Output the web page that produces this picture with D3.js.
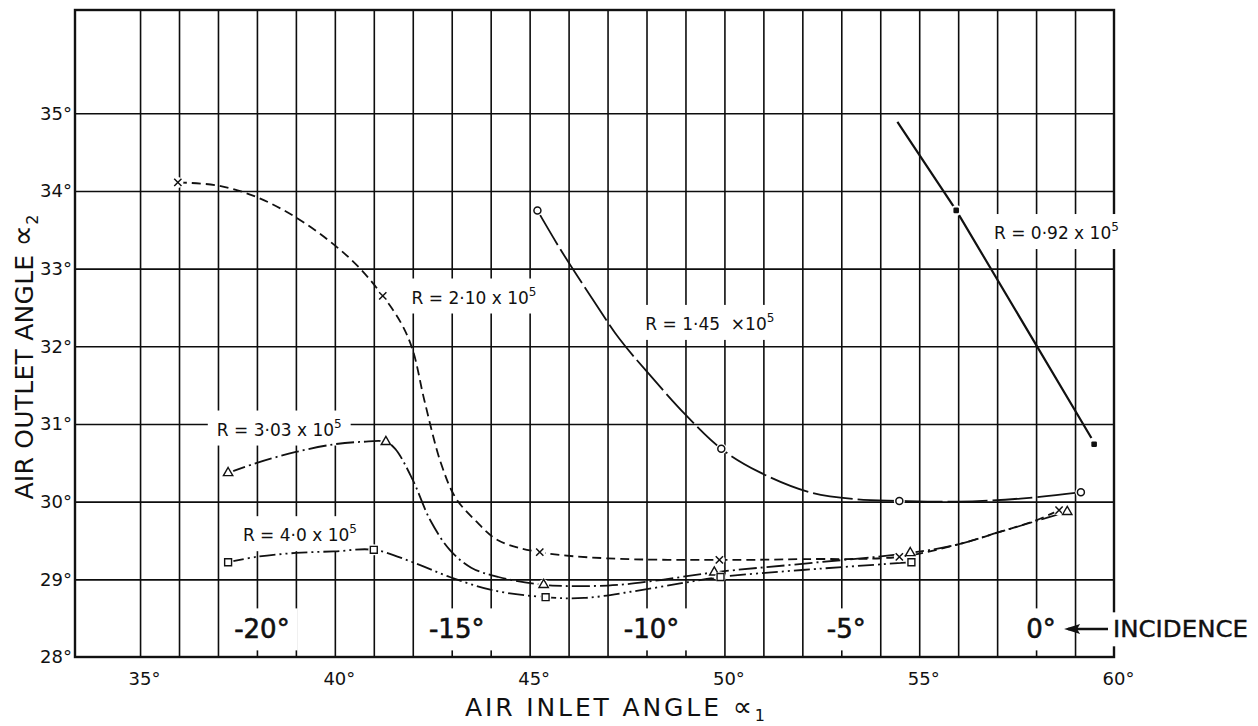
<!DOCTYPE html>
<html>
<head>
<meta charset="utf-8">
<script src="https://d3js.org/d3.v7.min.js"></script>
<style>
  body { margin: 0; background: #fff; }
  text { font-family: "DejaVu Sans", sans-serif; fill: #111; }
</style>
</head>
<body>
<div id="chart"></div>
<script>
// axis values
const xTicks = [35, 40, 45, 50, 55, 60];
const yTicks = [28, 29, 30, 31, 32, 33, 34, 35];
const incidenceTicks = [-20, -15, -10, -5, 0];
const zeroIncidenceInlet = 58; // alpha1 where incidence = 0

// R = 0.92 x 10^5
const r092Marks = [[55.95, 33.75], [59.49, 30.74]];
const r092Curve = [[54.44, 34.89], [55.95, 33.75], [59.42, 30.82]];

// R = 1.45 x 10^5
const r145Marks = [[45.2, 33.75], [49.92, 30.68], [54.49, 30.01], [59.15, 30.12]];
const r145Curve = [[45.2, 33.75], [45.8, 33.24], [46.6, 32.62], [47.3, 32.1], [48.0, 31.68],
  [49.0, 31.12], [49.92, 30.68], [50.9, 30.38], [52.2, 30.12], [53.4, 30.03], [54.49, 30.01],
  [56.0, 30.0], [57.6, 30.04], [59.15, 30.12]];

// R = 2.10 x 10^5
const r210Marks = [[35.97, 34.11], [41.23, 32.65], [45.26, 29.35], [49.87, 29.25], [54.49, 29.29], [58.59, 29.89]];
const r210Curve = [[35.97, 34.11], [37, 34.07], [38, 33.92], [39, 33.66], [40, 33.3], [40.65, 33.0],
  [41.23, 32.65], [41.7, 32.3], [42.0, 31.95], [42.3, 31.3], [42.72, 30.5], [43.1, 30.05],
  [43.6, 29.76], [44.2, 29.5], [45.26, 29.35], [47, 29.27], [49.87, 29.25], [52, 29.26],
  [54.49, 29.29], [56, 29.45], [57, 29.6], [58, 29.76], [58.59, 29.89]];

// R = 3.03 x 10^5
const r303Marks = [[37.26, 30.37], [41.31, 30.77], [45.36, 28.93], [49.74, 29.09], [54.77, 29.34], [58.8, 29.87]];
const r303Curve = [[37.26, 30.37], [38, 30.5], [39, 30.64], [40, 30.74], [40.7, 30.77], [41.31, 30.77],
  [41.55, 30.68], [42, 30.28], [42.45, 29.76], [42.95, 29.38], [43.5, 29.15], [44.2, 29.03],
  [45.36, 28.93], [47, 28.92], [48.2, 28.98], [49.74, 29.09], [52, 29.2], [54.77, 29.34],
  [56, 29.45], [57, 29.6], [58, 29.75], [58.8, 29.87]];

// R = 4.0 x 10^5
const r400Marks = [[37.26, 29.22], [41.0, 29.38], [45.41, 28.77], [49.9, 29.03], [54.8, 29.22]];
const r400Curve = [[37.26, 29.22], [38, 29.29], [39, 29.34], [40, 29.36], [41, 29.38], [42, 29.22],
  [42.95, 29.03], [44.05, 28.86], [45.41, 28.77], [46.4, 28.76], [47.6, 28.84], [48.9, 28.95],
  [49.9, 29.03], [52, 29.12], [54.8, 29.22]];

const W = 1258, H = 726;
const x = d3.scaleLinear().domain([33.33, 60]).range([75, 1114]);
const y = d3.scaleLinear().domain([28, 36.33]).range([657, 10]);

const svg = d3.select("#chart").append("svg")
  .attr("width", W).attr("height", H);

// grid through the axes
const plotH = y(28) - y(36.33);
const plotW = x(60) - x(33.33);

svg.append("g")
  .attr("transform", `translate(0,${y(28)})`)
  .call(d3.axisBottom(x).tickValues(d3.range(35, 60)).tickSize(-plotH).tickFormat(""))
  .call(g => g.select(".domain").remove())
  .call(g => g.selectAll("line").attr("stroke", "#0d0d0d").attr("stroke-width", 1.6));

svg.append("g")
  .attr("transform", `translate(${x(33.33)},0)`)
  .call(d3.axisLeft(y).tickValues(d3.range(29, 36)).tickSize(-plotW).tickFormat(""))
  .call(g => g.select(".domain").remove())
  .call(g => g.selectAll("line").attr("stroke", "#0d0d0d").attr("stroke-width", 1.6));

svg.append("rect")
  .attr("x", x(33.33)).attr("y", y(36.33))
  .attr("width", plotW).attr("height", plotH)
  .attr("fill", "none").attr("stroke", "#111").attr("stroke-width", 2.4);

// tick labels
svg.append("g")
  .attr("transform", `translate(0,${y(28)})`)
  .call(d3.axisBottom(x).tickValues(xTicks).tickSize(0).tickPadding(15).tickFormat(d => d + "°"))
  .call(g => g.select(".domain").remove())
  .call(g => g.selectAll("text").attr("font-size", 18).attr("dx", 4)
    .style("font-family", "DejaVu Sans").attr("fill", "#111"));

svg.append("g")
  .attr("transform", `translate(${x(33.33)},0)`)
  .call(d3.axisLeft(y).tickValues(yTicks).tickSize(0).tickPadding(3).tickFormat(d => d + "°"))
  .call(g => g.select(".domain").remove())
  .call(g => g.selectAll("text").attr("font-size", 18)
    .style("font-family", "DejaVu Sans").attr("fill", "#111"));

// axis titles
const xt = svg.append("text")
  .attr("x", 615).attr("y", 716)
  .attr("text-anchor", "middle")
  .attr("font-size", 25)
  .attr("textLength", 300).attr("lengthAdjust", "spacing");
xt.append("tspan").text("AIR  INLET ANGLE ");
xt.append("tspan").attr("font-size", 27).text("∝");
xt.append("tspan").attr("font-size", 16).attr("dy", 5).text("1");

const yt = svg.append("text")
  .attr("transform", "translate(33,357) rotate(-90)")
  .attr("text-anchor", "middle")
  .attr("font-size", 25)
  .attr("textLength", 285).attr("lengthAdjust", "spacing");
yt.append("tspan").text("AIR OUTLET ANGLE ");
yt.append("tspan").attr("font-size", 30).text("∝");
yt.append("tspan").attr("font-size", 16).attr("dy", 5).text("2");

// label with white box that breaks the grid
function boxedLabel(g, pad) {
  const b = g.node().getBBox();
  g.insert("rect", ":first-child")
    .attr("x", b.x - pad[0]).attr("y", b.y - pad[1])
    .attr("width", b.width + 2 * pad[0]).attr("height", b.height + 2 * pad[1])
    .attr("fill", "#fff");
}

// incidence labels
incidenceTicks.forEach(i => {
  const g = svg.append("g");
  g.append("text")
    .attr("x", x(zeroIncidenceInlet + i)).attr("y", y(28.36))
    .attr("dy", "0.36em").attr("dx", 5)
    .attr("text-anchor", "middle")
    .attr("font-size", 26)
    .attr("stroke", "#111").attr("stroke-width", 0.6)
    .text(i + "°");
  boxedLabel(g, [8, 6]);
});

// INCIDENCE arrow
const arrowY = y(28.36);
const ag = svg.append("g");
ag.append("line")
  .attr("x1", x(zeroIncidenceInlet) + 32).attr("x2", x(60) - 6)
  .attr("y1", arrowY).attr("y2", arrowY)
  .attr("stroke", "#111").attr("stroke-width", 2.5);
ag.append("path")
  .attr("d", `M${x(zeroIncidenceInlet) + 28},${arrowY} l16,-5 l-3,5 l3,5 z`)
  .attr("fill", "#111");
const inc = svg.append("g");
inc.append("text")
  .attr("x", x(60) - 1).attr("y", arrowY).attr("dy", "0.36em")
  .attr("font-size", 23)
  .attr("textLength", 135).attr("lengthAdjust", "spacingAndGlyphs")
  .attr("stroke", "#111").attr("stroke-width", 0.4)
  .text("INCIDENCE");
boxedLabel(inc, [2, 4]);

// R labels
const labelSpots = [
  { name: "2·10", at: [41.97, 32.63], mid: " x " },
  { name: "1·45", at: [47.97, 32.29], mid: "  ×" },
  { name: "0·92", at: [56.92, 33.46], mid: " x " },
  { name: "3·03", at: [36.97, 30.93], mid: " x " },
  { name: "4·0", at: [37.64, 29.57], mid: " x " }
];
labelSpots.forEach(l => {
  const g = svg.append("g");
  const t = g.append("text")
    .attr("x", x(l.at[0])).attr("y", y(l.at[1]))
    .attr("dy", "0.36em")
    .attr("font-size", 17)
    .attr("xml:space", "preserve");
  t.append("tspan").text("R = " + l.name + l.mid + "10");
  t.append("tspan").attr("font-size", 12).attr("dy", -8).text("5");
  boxedLabel(g, [9, 6]);
});

// curves
const smooth = d3.line()
  .x(d => x(d[0])).y(d => y(d[1]))
  .curve(d3.curveCatmullRom.alpha(0.5));
const straight = d3.line()
  .x(d => x(d[0])).y(d => y(d[1]));

const curves = [
  { data: r092Curve, dash: null, gen: straight },
  { data: r145Curve, dash: "40,5", gen: smooth },
  { data: r210Curve, dash: "9,5", gen: smooth },
  { data: r303Curve, dash: "18,4,2,4", gen: smooth },
  { data: r400Curve, dash: "16,4,2,4,2,4", gen: smooth }
];
curves.forEach(c => {
  svg.append("path")
    .attr("d", c.gen(c.data))
    .attr("fill", "none")
    .attr("stroke", "#111")
    .attr("stroke-width", c.dash ? 1.8 : 2.2)
    .attr("stroke-dasharray", c.dash);
});

// markers
function marks(data, type) {
  const g = svg.append("g");
  const sel = g.selectAll("g").data(data).join("g")
    .attr("transform", d => `translate(${x(d[0])},${y(d[1])})`);
  sel.append("circle").attr("r", 5.5).attr("fill", "#fff");
  if (type === "circle") {
    sel.append("circle").attr("r", 3.5).attr("fill", "#fff").attr("stroke", "#111").attr("stroke-width", 1.5);
  } else if (type === "triangle") {
    sel.append("path").attr("d", d3.symbol(d3.symbolTriangle, 38)())
      .attr("fill", "#fff").attr("stroke", "#111").attr("stroke-width", 1.4);
  } else if (type === "square") {
    sel.append("path").attr("d", d3.symbol(d3.symbolSquare, 48)())
      .attr("fill", "#fff").attr("stroke", "#111").attr("stroke-width", 1.4);
  } else if (type === "cross") {
    sel.append("path").attr("d", d3.symbol(d3.symbolX, 36)())
      .attr("fill", "none").attr("stroke", "#111").attr("stroke-width", 1.5);
  } else if (type === "dot") {
    sel.append("rect").attr("x", -2.8).attr("y", -2.8).attr("width", 5.6).attr("height", 5.6)
      .attr("rx", 1.2).attr("fill", "#111");
  }
}
marks(r092Marks, "dot");
marks(r145Marks, "circle");
marks(r210Marks, "cross");
marks(r303Marks, "triangle");
marks(r400Marks, "square");
</script>
</body>
</html>
